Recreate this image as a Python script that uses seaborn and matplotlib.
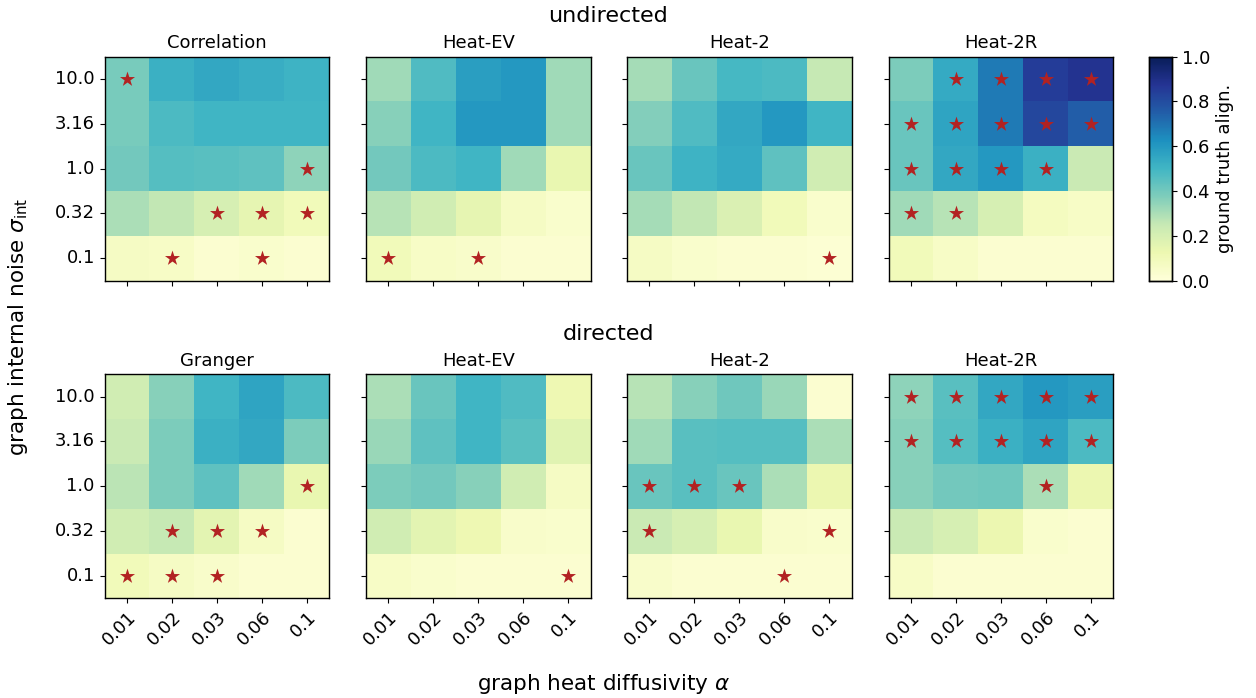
import numpy as np
import pandas as pd
import matplotlib
matplotlib.use("Agg")
import matplotlib.pyplot as plt
import seaborn as sns

# ---------------- data ----------------
alphas = ["0.01", "0.02", "0.03", "0.06", "0.1"]
sigmas = ["10.0", "3.16", "1.0", "0.32", "0.1"]
row_titles = ["undirected", "directed"]
titles_undirected = ["Correlation", "Heat-EV", "Heat-2", "Heat-2R"]
titles_directed = ["Granger", "Heat-EV", "Heat-2", "Heat-2R"]

# rows: sigma 10.0 -> 0.1 ; cols: alpha 0.01 -> 0.1
und_correlation = [[0.39, 0.52, 0.55, 0.53, 0.51],
                   [0.39, 0.48, 0.50, 0.50, 0.50],
                   [0.40, 0.46, 0.45, 0.44, 0.35],
                   [0.30, 0.26, 0.20, 0.15, 0.10],
                   [0.07, 0.06, 0.03, 0.04, 0.03]]
und_heat_ev = [[0.32, 0.47, 0.58, 0.60, 0.32],
               [0.36, 0.50, 0.60, 0.60, 0.32],
               [0.40, 0.48, 0.50, 0.32, 0.14],
               [0.28, 0.22, 0.15, 0.07, 0.04],
               [0.10, 0.06, 0.05, 0.03, 0.03]]
und_heat_2 = [[0.31, 0.42, 0.49, 0.48, 0.25],
              [0.37, 0.47, 0.55, 0.60, 0.50],
              [0.42, 0.51, 0.54, 0.44, 0.22],
              [0.31, 0.26, 0.19, 0.10, 0.04],
              [0.07, 0.04, 0.03, 0.03, 0.02]]
und_heat_2r = [[0.38, 0.54, 0.68, 0.85, 0.88],
               [0.42, 0.56, 0.68, 0.82, 0.75],
               [0.42, 0.55, 0.60, 0.52, 0.24],
               [0.32, 0.28, 0.20, 0.08, 0.06],
               [0.10, 0.06, 0.03, 0.03, 0.03]]
dir_granger = [[0.22, 0.36, 0.50, 0.56, 0.48],
               [0.24, 0.38, 0.52, 0.55, 0.38],
               [0.27, 0.38, 0.44, 0.32, 0.14],
               [0.22, 0.25, 0.16, 0.07, 0.03],
               [0.10, 0.07, 0.05, 0.03, 0.03]]
dir_heat_ev = [[0.30, 0.42, 0.50, 0.47, 0.12],
               [0.33, 0.44, 0.50, 0.45, 0.17],
               [0.38, 0.40, 0.36, 0.22, 0.07],
               [0.22, 0.16, 0.12, 0.05, 0.04],
               [0.06, 0.04, 0.03, 0.03, 0.03]]
dir_heat_2 = [[0.28, 0.36, 0.41, 0.33, 0.03],
              [0.32, 0.45, 0.46, 0.46, 0.30],
              [0.42, 0.45, 0.42, 0.30, 0.13],
              [0.24, 0.20, 0.14, 0.05, 0.04],
              [0.05, 0.03, 0.03, 0.03, 0.03]]
dir_heat_2r = [[0.35, 0.45, 0.55, 0.60, 0.58],
               [0.36, 0.46, 0.52, 0.56, 0.48],
               [0.36, 0.40, 0.41, 0.30, 0.13],
               [0.24, 0.20, 0.13, 0.04, 0.03],
               [0.06, 0.03, 0.03, 0.03, 0.03]]

# star markers (1 = marked cell)
star_und_correlation = [[1, 0, 0, 0, 0],
                        [0, 0, 0, 0, 0],
                        [0, 0, 0, 0, 1],
                        [0, 0, 1, 1, 1],
                        [0, 1, 0, 1, 0]]
star_und_heat_ev = [[0, 0, 0, 0, 0],
                    [0, 0, 0, 0, 0],
                    [0, 0, 0, 0, 0],
                    [0, 0, 0, 0, 0],
                    [1, 0, 1, 0, 0]]
star_und_heat_2 = [[0, 0, 0, 0, 0],
                   [0, 0, 0, 0, 0],
                   [0, 0, 0, 0, 0],
                   [0, 0, 0, 0, 0],
                   [0, 0, 0, 0, 1]]
star_und_heat_2r = [[0, 1, 1, 1, 1],
                    [1, 1, 1, 1, 1],
                    [1, 1, 1, 1, 0],
                    [1, 1, 0, 0, 0],
                    [0, 0, 0, 0, 0]]
star_dir_granger = [[0, 0, 0, 0, 0],
                    [0, 0, 0, 0, 0],
                    [0, 0, 0, 0, 1],
                    [0, 1, 1, 1, 0],
                    [1, 1, 1, 0, 0]]
star_dir_heat_ev = [[0, 0, 0, 0, 0],
                    [0, 0, 0, 0, 0],
                    [0, 0, 0, 0, 0],
                    [0, 0, 0, 0, 0],
                    [0, 0, 0, 0, 1]]
star_dir_heat_2 = [[0, 0, 0, 0, 0],
                   [0, 0, 0, 0, 0],
                   [1, 1, 1, 0, 0],
                   [1, 0, 0, 0, 1],
                   [0, 0, 0, 1, 0]]
star_dir_heat_2r = [[1, 1, 1, 1, 1],
                    [1, 1, 1, 1, 1],
                    [0, 0, 0, 1, 0],
                    [0, 0, 0, 0, 0],
                    [0, 0, 0, 0, 0]]

panels = [
    [(titles_undirected[0], und_correlation, star_und_correlation),
     (titles_undirected[1], und_heat_ev, star_und_heat_ev),
     (titles_undirected[2], und_heat_2, star_und_heat_2),
     (titles_undirected[3], und_heat_2r, star_und_heat_2r)],
    [(titles_directed[0], dir_granger, star_dir_granger),
     (titles_directed[1], dir_heat_ev, star_dir_heat_ev),
     (titles_directed[2], dir_heat_2, star_dir_heat_2),
     (titles_directed[3], dir_heat_2r, star_dir_heat_2r)],
]

# ---------------- figure ----------------
W, H = 1256, 698
fig = plt.figure(figsize=(W / 100, H / 100), dpi=100)
FS = 13

lefts_px = [104.5, 366.0, 627.0, 888.5]
ax_w_px = 224.5
ax_h_px = 224.0
bottoms_px = [280.7, 598.3]  # bottom edge (from top) of each row

cbar_ax = fig.add_axes([1149 / W, 1 - 280.7 / H, 23 / W, ax_h_px / H])

for r in range(2):
    for c in range(4):
        title, vals, stars = panels[r][c]
        ax = fig.add_axes([lefts_px[c] / W, 1 - bottoms_px[r] / H,
                           ax_w_px / W, ax_h_px / H])
        df = pd.DataFrame(vals, index=sigmas, columns=alphas)
        sns.heatmap(df, ax=ax, cmap="YlGnBu", vmin=0, vmax=1,
                    cbar=(r == 0 and c == 0), cbar_ax=cbar_ax if (r == 0 and c == 0) else None,
                    cbar_kws={"label": "ground truth align."}, square=False)
        sm = np.array(stars)
        yy, xx = np.nonzero(sm)
        ax.scatter(xx + 0.5, yy + 0.5, marker="*", s=130, color="#b22222",
                   linewidths=0, zorder=5)
        for sp in ax.spines.values():
            sp.set_visible(True)
            sp.set_linewidth(1.0)
            sp.set_color("black")
        ax.set_title(title, fontsize=FS, pad=6)
        ax.set_xlabel("")
        ax.set_ylabel("")
        ax.tick_params(axis="both", which="both", length=3.5, width=0.8,
                       labelsize=FS, direction="out")
        if c == 0:
            ax.set_yticklabels(sigmas, rotation=0)
        else:
            ax.set_yticklabels([])
        if r == 1:
            ax.set_xticklabels(alphas, rotation=45, ha="right",
                               rotation_mode="anchor")
        else:
            ax.set_xticklabels([])

cbar_ax.tick_params(labelsize=FS, length=3.5, width=0.8)
cbar_ax.yaxis.label.set_size(FS)
cbar_ax.set_yticks([0.0, 0.2, 0.4, 0.6, 0.8, 1.0])
cbar_ax.set_yticklabels(["0.0", "0.2", "0.4", "0.6", "0.8", "1.0"])
for sp in cbar_ax.spines.values():
    sp.set_visible(True)
    sp.set_linewidth(1.0)

fig.text(608 / W, 1 - 16 / H, row_titles[0], ha="center", va="center", fontsize=16)
fig.text(608 / W, 1 - 334 / H, row_titles[1], ha="center", va="center", fontsize=16)
fig.text(18 / W, 1 - 327 / H, r"graph internal noise $\sigma_{\mathrm{int}}$",
         rotation=90, ha="center", va="center", fontsize=15.5)
fig.text(604 / W, 1 - 684 / H, r"graph heat diffusivity $\alpha$",
         ha="center", va="center", fontsize=15.5)

fig.savefig("out.png", dpi=100)
